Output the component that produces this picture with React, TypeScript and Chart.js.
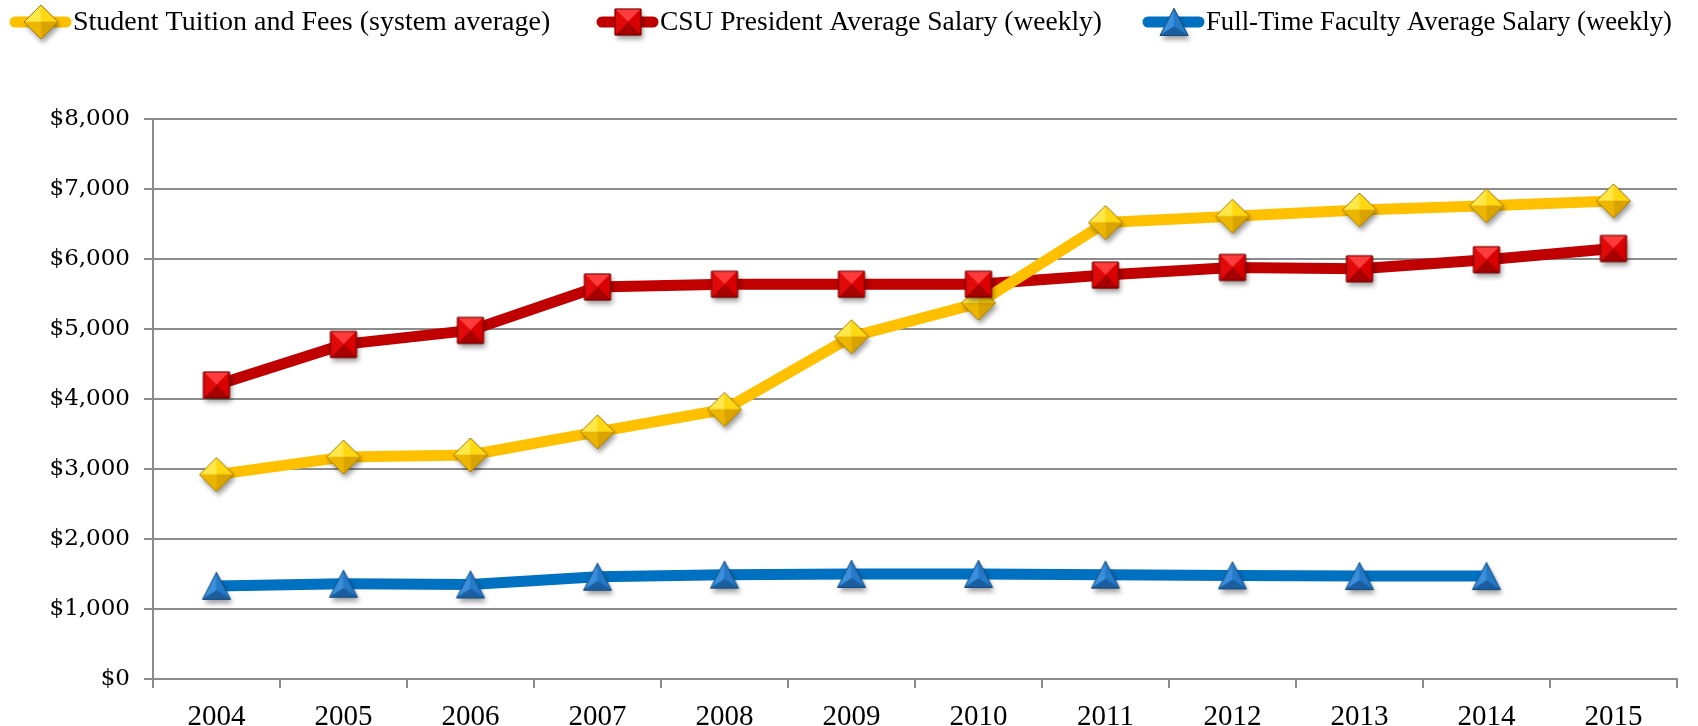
import { useEffect, useRef } from "react";
import { Chart, registerables } from "chart.js";

Chart.register(...registerables);

const years = ["2004", "2005", "2006", "2007", "2008", "2009", "2010", "2011", "2012", "2013", "2014", "2015"];
const tuition = [2920, 3170, 3200, 3530, 3850, 4890, 5370, 6520, 6610, 6700, 6760, 6830];
const president = [4200, 4780, 4980, 5600, 5640, 5640, 5640, 5770, 5880, 5860, 5990, 6150];
const faculty: (number | null)[] = [1330, 1360, 1350, 1460, 1490, 1500, 1500, 1490, 1480, 1470, 1470, null];
const seriesLabels = [
  "Student Tuition and Fees (system average)",
  "CSU President Average Salary (weekly)",
  "Full-Time Faculty Average Salary (weekly)",
];
const lineColors = ["#FFC000", "#C00000", "#0070C0"];
const yMin = 0;
const yMax = 8000;
const yStep = 1000;

type Pt = [number, number];

function facetMarker(outline: Pt[], facets: { pts: Pt[]; color: string }[], border: string, base: string) {
  const c = document.createElement("canvas");
  c.width = 50;
  c.height = 50;
  const ctx = c.getContext("2d")!;
  const path = (pts: Pt[]) => {
    ctx.beginPath();
    pts.forEach((p, i) => (i ? ctx.lineTo(25 + p[0], 25 + p[1]) : ctx.moveTo(25 + p[0], 25 + p[1])));
    ctx.closePath();
  };
  ctx.save();
  ctx.shadowColor = "rgba(0,0,0,0.38)";
  ctx.shadowBlur = 5;
  ctx.shadowOffsetX = 2;
  ctx.shadowOffsetY = 4;
  path(outline);
  ctx.fillStyle = base;
  ctx.fill();
  ctx.restore();
  facets.forEach((f) => {
    path(f.pts);
    ctx.fillStyle = f.color;
    ctx.fill();
    ctx.strokeStyle = f.color;
    ctx.lineWidth = 0.6;
    ctx.stroke();
  });
  path(outline);
  ctx.strokeStyle = border;
  ctx.lineWidth = 1;
  ctx.stroke();
  return c;
}

function makeDiamond() {
  const r = 17;
  const T: Pt = [0, -r], R: Pt = [r, 0], B: Pt = [0, r], L: Pt = [-r, 0], C: Pt = [0, 0];
  return facetMarker(
    [T, R, B, L],
    [
      { pts: [L, T, C], color: "#FFE84A" },
      { pts: [T, R, C], color: "#FFD814" },
      { pts: [R, B, C], color: "#D9A300" },
      { pts: [B, L, C], color: "#ECB600" },
    ],
    "#A67C00",
    "#E8B400"
  );
}

function makeSquare() {
  const s = 13;
  const TL: Pt = [-s, -s], TR: Pt = [s, -s], BR: Pt = [s, s], BL: Pt = [-s, s], C: Pt = [0, 0];
  return facetMarker(
    [TL, TR, BR, BL],
    [
      { pts: [TL, TR, C], color: "#FF3B3B" },
      { pts: [TR, BR, C], color: "#D80000" },
      { pts: [BR, BL, C], color: "#A60000" },
      { pts: [BL, TL, C], color: "#E00A0A" },
    ],
    "#6B0000",
    "#C00000"
  );
}

function makeTriangle() {
  const T: Pt = [0, -13.5], BR: Pt = [14, 13.5], BL: Pt = [-14, 13.5], C: Pt = [0, 4.5];
  return facetMarker(
    [T, BR, BL],
    [
      { pts: [T, BL, C], color: "#3A90DC" },
      { pts: [T, BR, C], color: "#2479C8" },
      { pts: [BL, BR, C], color: "#1A5E9F" },
    ],
    "#174A7A",
    "#1F6FB8"
  );
}

export default function App() {
  const ref = useRef<HTMLCanvasElement>(null);
  useEffect(() => {
    document.body.style.margin = "0";
    const markers = [makeDiamond(), makeSquare(), makeTriangle()];
    const data = [tuition, president, faculty];
    const lineOrder = [4, 5, 6];
    const pointOrder = [3, 2, 1];

    const lineSets = data.map((d, i) => ({
      label: seriesLabels[i] + " line",
      data: d,
      borderColor: lineColors[i],
      backgroundColor: lineColors[i],
      borderWidth: 11,
      borderCapStyle: "round" as const,
      borderJoinStyle: "round" as const,
      pointRadius: 0,
      pointHoverRadius: 0,
      tension: 0,
      fill: false,
      order: lineOrder[i],
    }));
    const pointSets = data.map((d, i) => ({
      label: seriesLabels[i],
      data: d,
      showLine: false,
      pointStyle: markers[i],
      pointRadius: 17,
      pointHoverRadius: 17,
      order: pointOrder[i],
    }));

    const legendPlugin = {
      id: "customLegend",
      afterDraw(chart: Chart) {
        const ctx = chart.ctx;
        const starts = [10, 597, 1143];
        const maxW = [500, 442, 466];
        const y = 22;
        ctx.save();
        seriesLabels.forEach((label, i) => {
          const x = starts[i];
          ctx.beginPath();
          ctx.moveTo(x + 5, y);
          ctx.lineTo(x + 56, y);
          ctx.strokeStyle = lineColors[i];
          ctx.lineWidth = 11;
          ctx.lineCap = "round";
          ctx.stroke();
          ctx.drawImage(markers[i], x + 31 - 25, y - 25);
          ctx.fillStyle = "#000";
          ctx.font = "28px 'Liberation Serif'";
          ctx.textBaseline = "middle";
          ctx.textAlign = "left";
          ctx.fillText(label, x + 63, y + 1, maxW[i]);
        });
        ctx.restore();
      },
    };

    const gridColor = "#8C8C8C";
    const chart = new Chart(ref.current!, {
      type: "line",
      data: { labels: years, datasets: [...lineSets, ...pointSets] as any },
      options: {
        animation: false,
        responsive: false,
        devicePixelRatio: 1,
        layout: { padding: { top: 119, right: 21, left: 0, bottom: 0 } },
        plugins: { legend: { display: false }, tooltip: { enabled: false } },
        scales: {
          x: {
            type: "category",
            offset: true,
            grid: { offset: true, drawOnChartArea: false, tickLength: 9, color: gridColor, lineWidth: 2 },
            border: { display: true, color: gridColor, width: 2 },
            ticks: {
              font: { family: "'Liberation Serif'", size: 29 },
              color: "#000",
              padding: 12,
              maxRotation: 0,
              autoSkip: false,
            },
            afterFit: (s: any) => {
              s.height = 47;
            },
          },
          y: {
            min: yMin,
            max: yMax,
            grid: { color: gridColor, lineWidth: 2, tickLength: 9 },
            border: { display: true, color: gridColor, width: 2 },
            ticks: {
              stepSize: yStep,
              font: { family: "'DejaVu Serif'", size: 23 },
              color: "#000",
              padding: 14,
              callback: (v: any) => "$" + Number(v).toLocaleString("en-US"),
            },
            afterFit: (s: any) => {
              s.width = 153;
            },
          },
        },
      },
      plugins: [legendPlugin],
    });
    return () => chart.destroy();
  }, []);
  return (
    <div style={{ width: 1698, height: 726 }}>
      <canvas ref={ref} width={1698} height={726} />
    </div>
  );
}
